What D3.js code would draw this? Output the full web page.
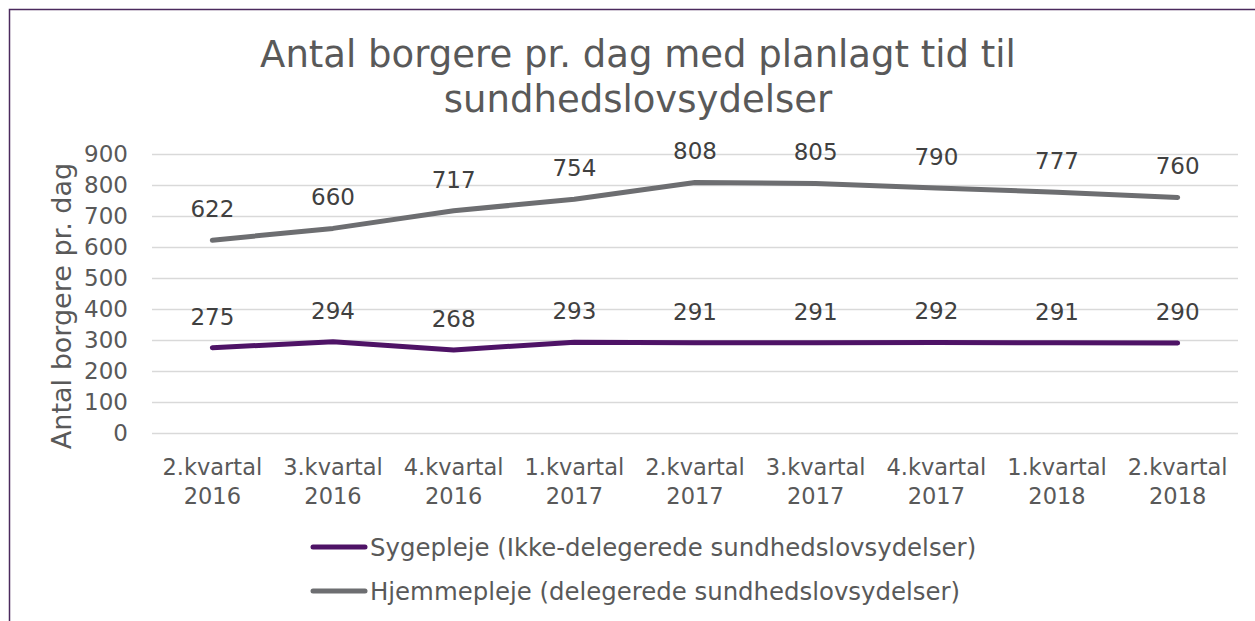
<!DOCTYPE html>
<html>
<head>
<meta charset="utf-8">
<script src="https://cdn.jsdelivr.net/npm/d3@7.9.0/dist/d3.min.js"></script>
<style>
  body { margin: 0; background: #fff; }
  svg { display: block; font-family: 'DejaVu Sans', Verdana, sans-serif; }
</style>
</head>
<body>
<svg id="chart" width="1255" height="621"></svg>
<script>
// categories (two-line labels)
const quarters = [
  ['2.kvartal', '2016'], ['3.kvartal', '2016'], ['4.kvartal', '2016'],
  ['1.kvartal', '2017'], ['2.kvartal', '2017'], ['3.kvartal', '2017'],
  ['4.kvartal', '2017'], ['1.kvartal', '2018'], ['2.kvartal', '2018']
];
const sygepleje = [275, 294, 268, 293, 291, 291, 292, 291, 290];
const hjemmepleje = [622, 660, 717, 754, 808, 805, 790, 777, 760];
const yTicks = [0, 100, 200, 300, 400, 500, 600, 700, 800, 900];

const series = [
  { name: 'Sygepleje (Ikke-delegerede sundhedslovsydelser)', values: sygepleje, color: '#4e1366' },
  { name: 'Hjemmepleje (delegerede sundhedslovsydelser)', values: hjemmepleje, color: '#6d6e71' }
];

const svg = d3.select('#chart');
const textColor = '#595959';

// outer frame (cropped on right/bottom like the reference)
svg.append('rect')
  .attr('x', 9.5).attr('y', 9.5)
  .attr('width', 1300).attr('height', 700)
  .attr('fill', 'none')
  .attr('stroke', '#4b2a5e')
  .attr('stroke-width', 1.5);

// title
const title = svg.append('text')
  .attr('text-anchor', 'middle')
  .attr('fill', textColor)
  .attr('font-size', 37);
title.append('tspan').attr('x', 638).attr('y', 67).text('Antal borgere pr. dag med planlagt tid til');
title.append('tspan').attr('x', 638).attr('y', 112).text('sundhedslovsydelser');

const plot = { left: 152, right: 1238, top: 154, bottom: 433 };

const x = d3.scaleBand()
  .domain(quarters.map((d, i) => i))
  .range([plot.left, plot.right]);

const y = d3.scaleLinear()
  .domain([0, 900])
  .range([plot.bottom, plot.top]);

// gridlines
svg.append('g')
  .selectAll('line')
  .data(yTicks)
  .join('line')
  .attr('x1', plot.left).attr('x2', plot.right)
  .attr('y1', d => Math.round(y(d)) + 0.5)
  .attr('y2', d => Math.round(y(d)) + 0.5)
  .attr('stroke', '#d9d9d9')
  .attr('stroke-width', 1.3);

// y tick labels
svg.append('g')
  .selectAll('text')
  .data(yTicks)
  .join('text')
  .attr('x', 128)
  .attr('y', d => y(d))
  .attr('dy', '0.36em')
  .attr('text-anchor', 'end')
  .attr('fill', textColor)
  .attr('font-size', 23)
  .text(d => d);

// y axis title
svg.append('text')
  .attr('transform', 'translate(71,306) rotate(-90)')
  .attr('text-anchor', 'middle')
  .attr('fill', textColor)
  .attr('font-size', 27)
  .text('Antal borgere pr. dag');

// x labels
const xl = svg.append('g')
  .selectAll('text')
  .data(quarters)
  .join('text')
  .attr('text-anchor', 'middle')
  .attr('fill', textColor)
  .attr('font-size', 22.5);
xl.append('tspan')
  .attr('x', (d, i) => x(i) + x.bandwidth() / 2)
  .attr('y', 475)
  .text(d => d[0]);
xl.append('tspan')
  .attr('x', (d, i) => x(i) + x.bandwidth() / 2)
  .attr('y', 504)
  .text(d => d[1]);

// lines
const line = d3.line()
  .x((d, i) => x(i) + x.bandwidth() / 2)
  .y(d => y(d));

series.forEach(s => {
  svg.append('path')
    .datum(s.values)
    .attr('d', line)
    .attr('fill', 'none')
    .attr('stroke', s.color)
    .attr('stroke-width', 5)
    .attr('stroke-linecap', 'round')
    .attr('stroke-linejoin', 'round');

  svg.append('g')
    .selectAll('text')
    .data(s.values)
    .join('text')
    .attr('x', (d, i) => x(i) + x.bandwidth() / 2)
    .attr('y', d => y(d) - 31.5)
    .attr('dy', '0.36em')
    .attr('text-anchor', 'middle')
    .attr('fill', '#404040')
    .attr('font-size', 23)
    .text(d => d);
});

// legend
const legend = svg.append('g')
  .selectAll('g')
  .data(series)
  .join('g')
  .attr('transform', (d, i) => `translate(313,${547 + i * 44})`);
legend.append('line')
  .attr('x1', 0).attr('x2', 52)
  .attr('stroke', d => d.color)
  .attr('stroke-width', 5)
  .attr('stroke-linecap', 'round');
legend.append('text')
  .attr('x', 57)
  .attr('dy', '0.36em')
  .attr('fill', textColor)
  .attr('font-size', 24.4)
  .text(d => d.name);
</script>
</body>
</html>
